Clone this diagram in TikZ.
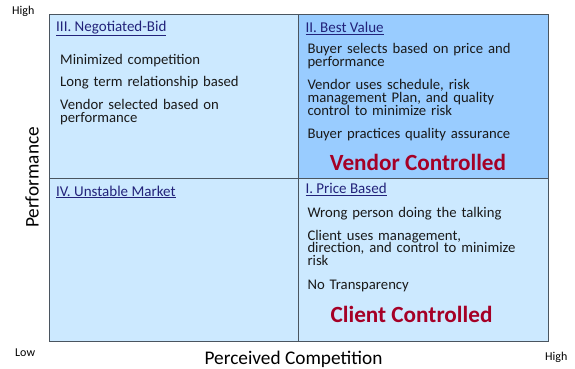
\documentclass[tikz,border=0pt]{standalone}
\usepackage{fontspec}
\setmainfont{Carlito}
\definecolor{lightq}{HTML}{CCE9FF}
\definecolor{darkq}{HTML}{99CCFF}
\definecolor{edgec}{HTML}{4A5560}
\definecolor{titlec}{HTML}{22227A}
\definecolor{ctrlc}{HTML}{A50026}
\definecolor{bodyc}{HTML}{1A1A1A}
\newcommand{\tightlines}{\lineskiplimit=-30pt\relax}
\begin{document}
\begin{tikzpicture}[x=1pt,y=-1pt,
  quad/.style={draw=edgec,line width=1pt},
  qtitle/.style={anchor=base west,inner sep=0pt,text=titlec,font=\fontsize{15}{15}\selectfont},
  item/.style={anchor=base west,inner sep=0pt,text=bodyc,align=left,text width=236pt,
    font=\fontsize{14.7}{12.9}\selectfont\tightlines},
  ctrl/.style={anchor=base,inner sep=0pt,text=ctrlc,font=\fontsize{23.2}{23}\selectfont\bfseries},
  axis/.style={anchor=base,inner sep=0pt,text=black,font=\fontsize{19.3}{19}\selectfont},
  tick/.style={anchor=base west,inner sep=0pt,text=black,font=\fontsize{12}{12}\selectfont}]
\useasboundingbox (0,0) rectangle (575,369);
% quadrants
\path[quad,fill=lightq] (49,15) rectangle (298,178) coordinate (q3);
\path[quad,fill=darkq] (298,15) rectangle (548,178) coordinate (q2);
\path[quad,fill=lightq] (49,178) rectangle (298,341) coordinate (q4);
\path[quad,fill=lightq] (298,178) rectangle (548,341) coordinate (q1);
% titles
\node[qtitle] (t3) at (56,31.7) {\underline{III. Negotiated-Bid}};
\node[qtitle] (t2) at (305.3,32.3) {\underline{II. Best Value}};
\node[qtitle] (t4) at (56,196) {\underline{IV. Unstable Market}};
\node[qtitle] (t1) at (305.3,193.3) {\underline{I. Price Based}};
% III items
\node[item] (a1) at (60,64.3) {Minimized competition};
\node[item] (a2) at (60,86.3) {Long term relationship based};
\node[item] (a3) at (60,109.3) {Vendor selected based on\\performance};
% II items
\node[item] (b1) at (307.3,54) {Buyer selects based on price and\\performance};
\node[item] (b2) at (307.3,89.3) {Vendor uses schedule, risk\\management Plan, and quality\\control to minimize risk};
\node[item] (b3) at (307.3,138.7) {Buyer practices quality assurance};
\node[ctrl] (vc) at (418,170) {Vendor Controlled};
% I items
\node[item] (c1) at (307.3,217.7) {Wrong person doing the talking};
\node[item] (c2) at (307.3,240) {Client uses management,\\direction, and control to minimize\\risk};
\node[item] (c3) at (307.3,289) {No Transparency};
\node[ctrl] (cc) at (411.5,322.3) {Client Controlled};
% axes labels
\node[tick] (hi1) at (12,15) {High};
\node[tick] (lo) at (15,356.7) {Low};
\node[tick] (hi2) at (545,360.7) {High};
\node[axis,rotate=90] (perf) at (38.5,177.5) {Performance};
\node[axis] (comp) at (293.5,364) {Perceived Competition};
\end{tikzpicture}
\end{document}
